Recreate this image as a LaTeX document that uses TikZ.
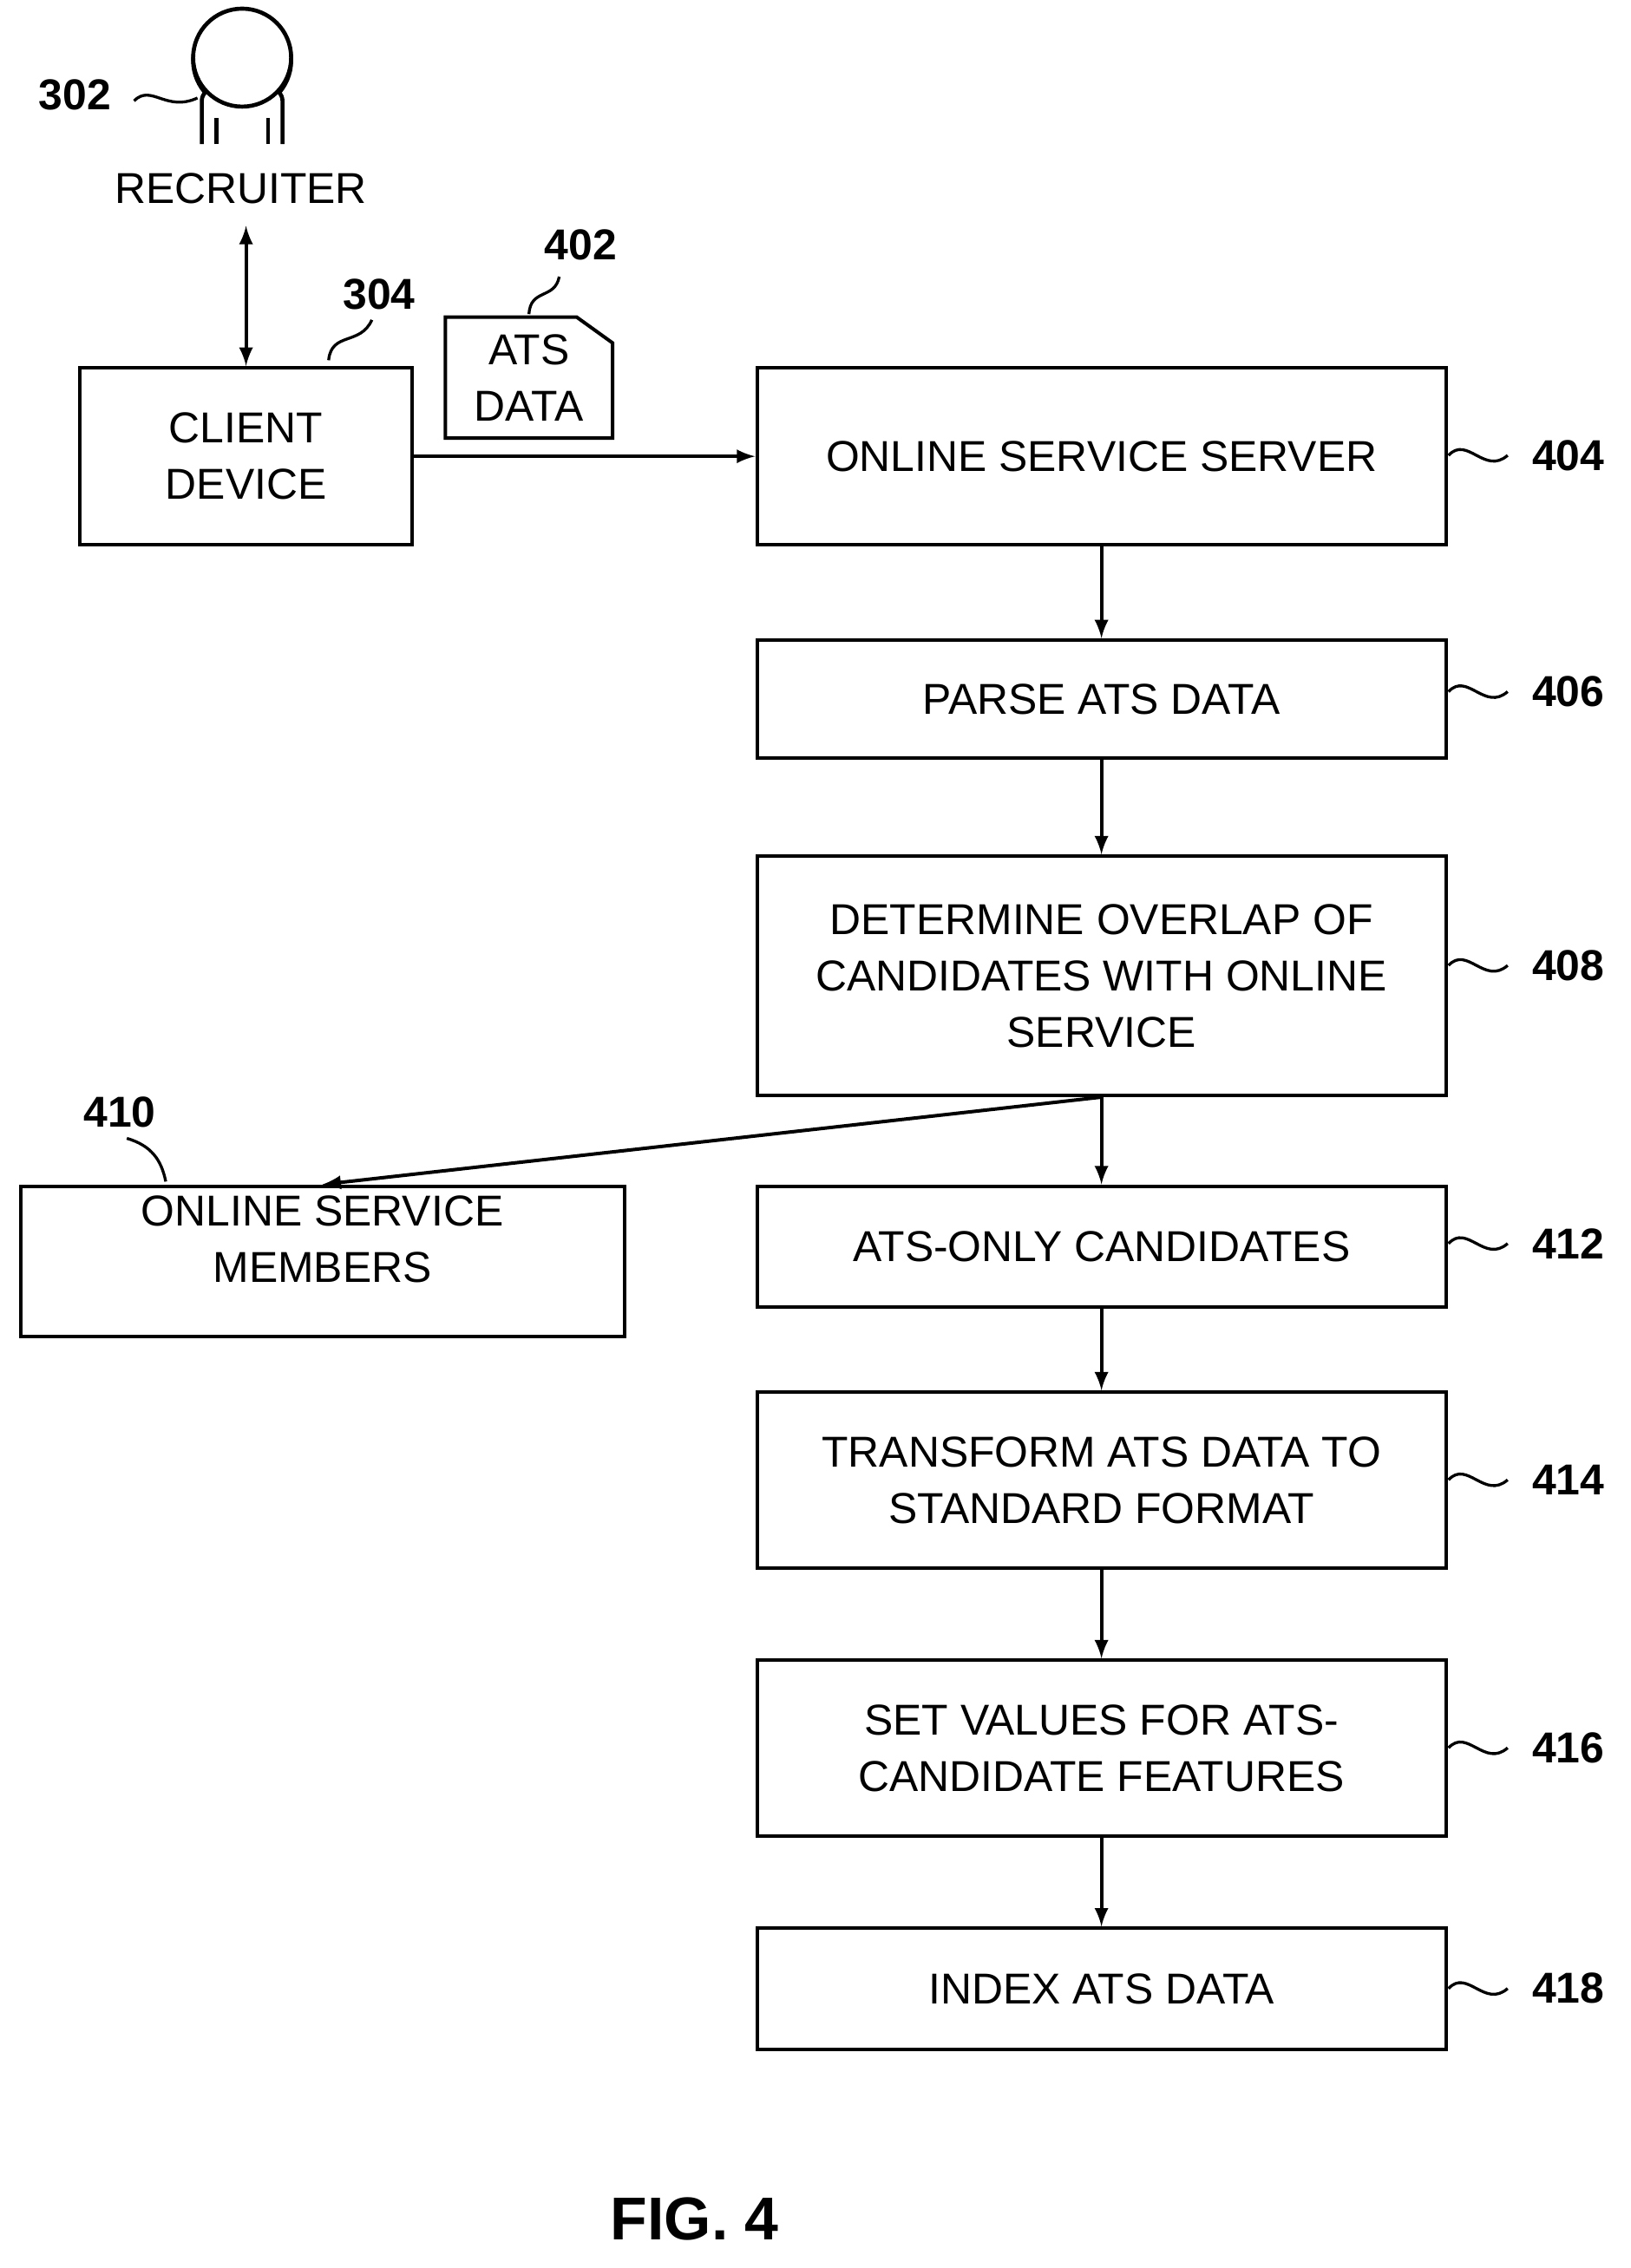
\documentclass[tikz,border=0pt]{standalone}
\usepackage{fontspec}
\setmainfont{Liberation Sans}
\begin{document}
\begin{tikzpicture}[x=0.5pt,y=-0.5pt,
 box/.style={draw,line width=1.2pt,anchor=north west,align=center,font=\fontsize{15}{19.5}\selectfont},
 lab/.style={font=\bfseries\fontsize{15}{18}\selectfont},
 arr/.style={-latex,line width=1.2pt},
 sq/.style={line width=1pt}]
\useasboundingbox (0,0) rectangle (1131,1574);
% person
\node[draw,circle,line width=1.4pt,minimum size=34pt,inner sep=0] (head) at (168,42) {};
\draw[line width=1.4pt,fill=white] (140,100) -- (140,70) .. controls (140,52) and (196,52) .. (196,70) -- (196,100);
\draw[line width=1.4pt] (150,100) -- (150,82) (186,100) -- (186,82);
\node[draw,circle,line width=1.4pt,fill=white,minimum size=34pt,inner sep=0] at (168,40) {};
\node[lab] (l302) at (52,66) {302};
\draw[sq] (93,70) .. controls (105,58) and (115,78) .. (137,68);
\node[font=\fontsize{15}{18}\selectfont] (rec) at (167,131) {RECRUITER};
% client
\node[box,minimum width=115.5pt,minimum height=61.5pt] (client) at (54,254) {CLIENT\\DEVICE};
\draw[latex-latex,line width=1.2pt] (rec.south -| client.north) ++(0,8) coordinate (rtop) -- (client.north);
\node[lab] (l304) at (263,204) {304};
\draw[sq] (228,250) .. controls (230,230) and (250,240) .. (258,222);
% ats doc
\draw[line width=1.2pt] (309,220) -- (400,220) -- (425,238) -- (425,304) -- (309,304) -- cycle;
\node[font=\fontsize{15}{19.5}\selectfont,align=center] (ats) at (367,262) {ATS\\DATA};
\node[lab] (l402) at (403,170) {402};
\draw[sq] (367,218) .. controls (368,200) and (385,208) .. (388,192);
% main boxes
\node[box,minimum width=239pt,minimum height=61.5pt] (b404) at (524,254) {ONLINE SERVICE SERVER};
\node[box,minimum width=239pt,minimum height=41pt] (b406) at (524,443) {PARSE ATS DATA};
\node[box,minimum width=239pt,minimum height=83pt] (b408) at (524,593) {DETERMINE OVERLAP OF\\CANDIDATES WITH ONLINE\\SERVICE};
\node[box,minimum width=239pt,minimum height=42pt] (b412) at (524,822) {ATS-ONLY CANDIDATES};
\node[box,minimum width=239pt,minimum height=61pt] (b414) at (524,965) {TRANSFORM ATS DATA TO\\STANDARD FORMAT};
\node[box,minimum width=239pt,minimum height=61pt] (b416) at (524,1151) {SET VALUES FOR ATS-\\CANDIDATE FEATURES};
\node[box,minimum width=239pt,minimum height=42pt] (b418) at (524,1337) {INDEX ATS DATA};
\node[box,minimum width=209.5pt,minimum height=48pt] (b410) at (13,822) {ONLINE SERVICE\\MEMBERS\\[-4pt]};
\draw[arr] (client.east) -- (client.east -| b404.west);
\draw[arr] (b404) -- (b406);
\draw[arr] (b406) -- (b408);
\draw[arr] (b408) -- (b412);
\draw[arr] (b412) -- (b414);
\draw[arr] (b414) -- (b416);
\draw[arr] (b416) -- (b418);
\draw[arr] (b408.south) -- (b410.north);
\node[lab] (l410) at (83,772) {410};
\draw[sq] (88,790) .. controls (105,795) and (112,805) .. (115,820);
\foreach \n/\y in {404/316,406/480,408/670,412/863,414/1027,416/1213,418/1380}{
 \node[lab] (l\n) at (1088,\y) {\n};
 \draw[sq] (1005,\y) .. controls (1018,\y-14) and (1030,\y+14) .. (1046,\y);
}
\node[font=\bfseries\fontsize{21}{24}\selectfont] (fig) at (482,1540) {FIG. 4};
\end{tikzpicture}
\end{document}
